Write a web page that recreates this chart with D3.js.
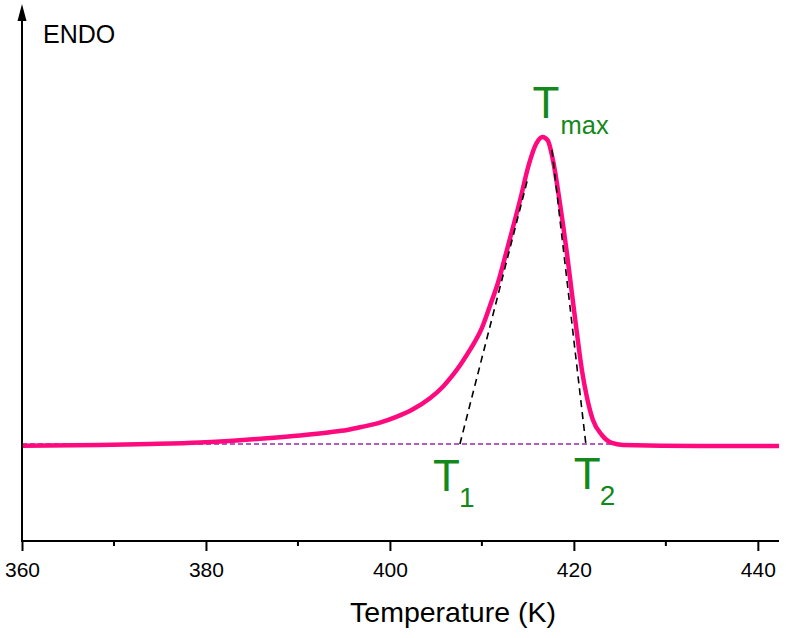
<!DOCTYPE html>
<html>
<head>
<meta charset="utf-8">
<script src="https://cdn.jsdelivr.net/npm/d3@7"></script>
<style>
  html, body { margin: 0; padding: 0; background: #fff; }
  svg { display: block; font-family: "Liberation Sans", Arial, sans-serif; }
</style>
</head>
<body>
<svg id="chart" width="786" height="638"></svg>
<script>
// ---- data ----
const temperature = [360.0, 368.48, 373.91, 379.35, 382.93, 386.63, 390.22, 393.48, 395.33, 397.07,
  398.91, 400.76, 402.5, 404.35, 405.76, 406.85, 407.72, 408.7, 410.0, 410.87, 411.74, 412.72,
  414.13, 415.1, 415.9, 416.6, 417.17, 417.72, 418.48, 419.24, 419.78, 420.33, 420.87,
  421.41, 422.07, 423.04, 424.13, 425.33, 433.7, 442.3];
const heatFlow = [-0.55, -0.33, 0.0, 0.49, 1.07, 1.86, 2.77, 3.81, 4.56, 5.64,
  6.94, 8.89, 11.3, 14.89, 18.66, 22.48, 26.06, 30.62, 37.79, 44.95, 52.44, 63.19,
  79.2, 91.0, 97.8, 100.0, 98.8, 92.5, 78.5, 62.2, 49.2, 36.16, 24.1,
  15.3, 7.82, 2.93, 0.33, -0.33, -0.65, -0.65];
const onsetTangentT = [407.61, 415.0];
const onsetTangentV = [0, 86.6];
const endTangentT = [417.61, 421.3];
const endTangentV = [95.8, 0];
const baselineT = [360, 424.2];
const baselineV = [0, 0];
const majorTicks = [360, 380, 400, 420, 440];
const minorTicks = [370, 390, 410, 430];
const xDomain = [360, 442.3];
const yDomain = [-31.6, 142];
const labels = { xTitle: "Temperature (K)", yTitle: "ENDO", t1: "1", t2: "2", tmax: "max" };

// ---- layout ----
const svg = d3.select("#chart");
const mLeft = 22, mRight = 779, mTop = 8, mBottom = 541;
const x = d3.scaleLinear().domain(xDomain).range([mLeft, mRight]);
const y = d3.scaleLinear().domain(yDomain).range([mBottom, mTop]);

const green = "#12891a";
const pink = "#ff0a7e";

// baseline (dashed purple)
const line = d3.line().x(d => x(d[0])).y(d => y(d[1]));
svg.append("path")
  .attr("d", line(baselineT.map((t, i) => [t, baselineV[i]])))
  .attr("fill", "none").attr("stroke", "#9c27b0").attr("stroke-width", 1.3)
  .attr("stroke-dasharray", "5,3");

// curve
const curve = d3.line().x(d => x(d[0])).y(d => y(d[1])).curve(d3.curveMonotoneX);
svg.append("path")
  .attr("d", curve(temperature.map((t, i) => [t, heatFlow[i]])))
  .attr("fill", "none").attr("stroke", pink).attr("stroke-width", 4.5)
  .attr("stroke-linejoin", "round");

// tangents
[[onsetTangentT, onsetTangentV], [endTangentT, endTangentV]].forEach(([ts, vs]) => {
  svg.append("path")
    .attr("d", line(ts.map((t, i) => [t, vs[i]])))
    .attr("fill", "none").attr("stroke", "#000").attr("stroke-width", 1.6)
    .attr("stroke-dasharray", "7,5");
});

// x axis
const xAxis = d3.axisBottom(x).tickValues(majorTicks).tickSize(10).tickFormat(d3.format("d"));
const gx = svg.append("g").attr("transform", `translate(0,${mBottom})`).call(xAxis);
gx.select(".domain").attr("d", `M${mLeft},0H${mRight}`).attr("stroke", "#000").attr("stroke-width", 2);
gx.selectAll(".tick line").attr("stroke", "#000").attr("stroke-width", 2);
gx.selectAll(".tick text").attr("font-size", 21).attr("fill", "#000")
  .attr("font-family", "'Liberation Sans', Arial, sans-serif").attr("y", 36).attr("dy", 0);
const gxm = svg.append("g").attr("transform", `translate(0,${mBottom})`);
gxm.selectAll("line").data(minorTicks).join("line")
  .attr("x1", d => x(d)).attr("x2", d => x(d)).attr("y1", 0).attr("y2", 5)
  .attr("stroke", "#000").attr("stroke-width", 2);

// y axis with arrow
svg.append("line").attr("x1", mLeft).attr("x2", mLeft).attr("y1", mBottom + 1).attr("y2", 18)
  .attr("stroke", "#000").attr("stroke-width", 2);
svg.append("path").attr("d", `M${mLeft},4 L${mLeft - 4.5},21 L${mLeft + 4.5},21 Z`).attr("fill", "#000");

// titles
svg.append("text").attr("x", 43).attr("y", 43).attr("font-size", 25).attr("fill", "#000")
  .text(labels.yTitle);
svg.append("text").attr("x", 453).attr("y", 622).attr("text-anchor", "middle")
  .attr("font-size", 28.5).attr("fill", "#000").text(labels.xTitle);

// annotation labels
function tLabel(xT, yB, sub, subDx, subY, bigSize, subSize) {
  svg.append("text").attr("x", xT).attr("y", yB).attr("font-size", bigSize).attr("fill", green).text("T");
  svg.append("text").attr("x", xT + subDx).attr("y", subY).attr("font-size", subSize).attr("fill", green).text(sub);
}
const peakIdx = d3.maxIndex(heatFlow);
tLabel(x(temperature[peakIdx]) - 10, 118, labels.tmax, 28, 134, 44, 25.5);
tLabel(x(onsetTangentT[0]) - 27, 491, labels.t1, 26, 507, 44, 28);
tLabel(x(endTangentT[1]) - 12, 489, labels.t2, 26, 505, 44, 28);
</script>
</body>
</html>
